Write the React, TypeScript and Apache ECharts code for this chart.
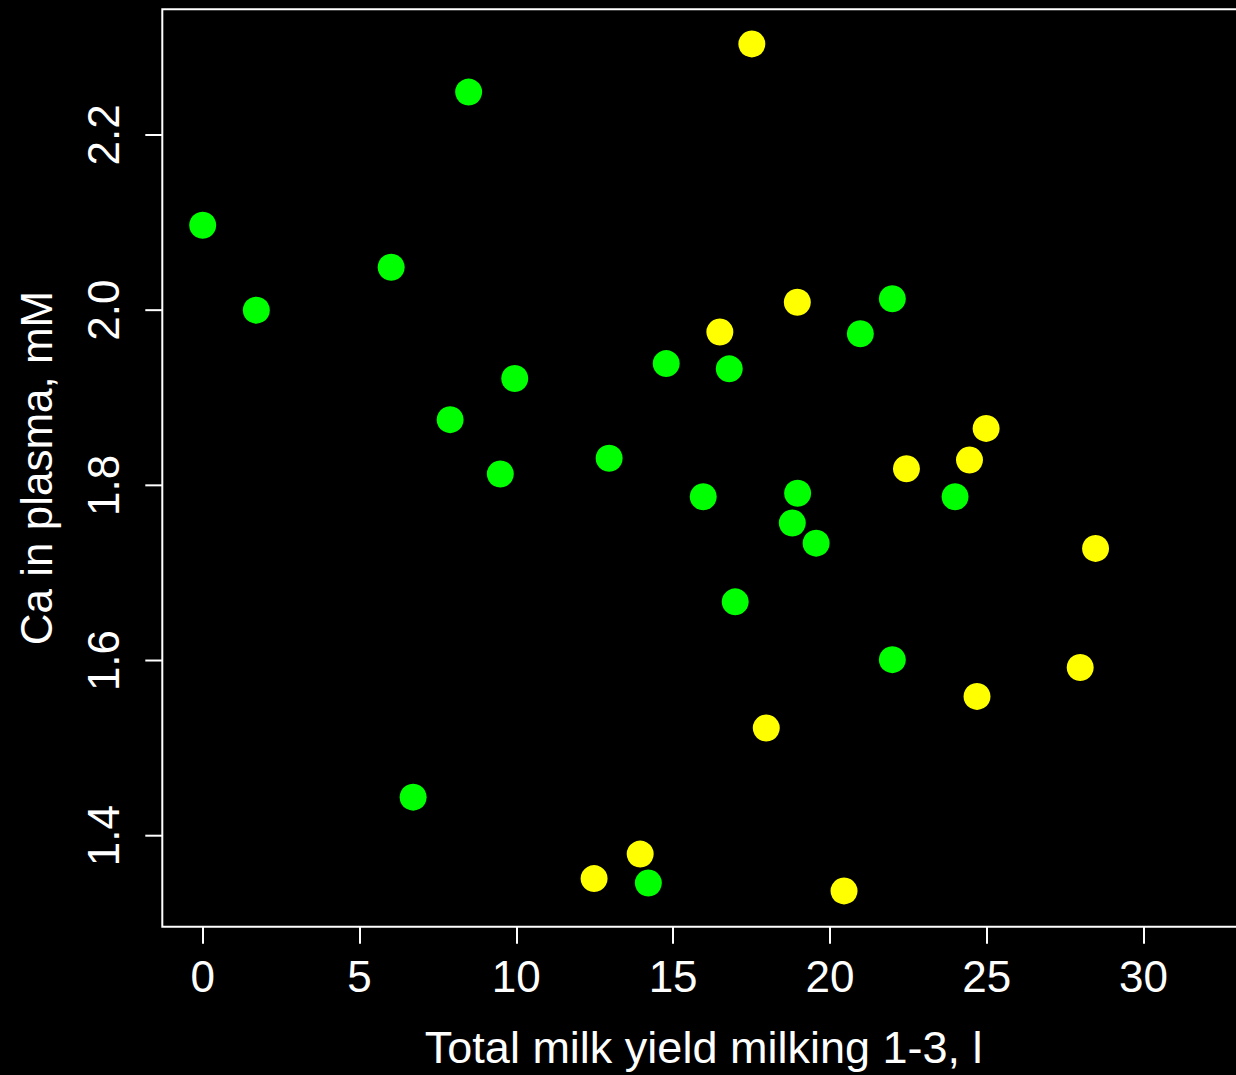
import React, { useEffect, useRef } from "react";
import * as echarts from "echarts";

// Green group: [milk yield (l), Ca in plasma (mM)]
const greenX = [0.0, 1.71, 6.01, 8.48, 9.95, 7.89, 9.49, 12.96, 14.78, 16.79, 21.99, 20.97, 15.96, 18.97, 18.8, 19.56, 23.99, 21.99, 16.98, 14.21, 6.71];
const greenY = [2.097, 2.0, 2.049, 2.249, 1.922, 1.875, 1.813, 1.831, 1.939, 1.933, 2.013, 1.973, 1.787, 1.791, 1.757, 1.734, 1.787, 1.601, 1.667, 1.346, 1.444];

// Yellow group
const yellowX = [17.51, 18.96, 16.49, 22.44, 24.98, 24.45, 28.47, 27.98, 24.69, 17.97, 13.95, 12.48, 20.45];
const yellowY = [2.304, 2.009, 1.975, 1.819, 1.865, 1.829, 1.728, 1.592, 1.559, 1.523, 1.379, 1.351, 1.337];

const xTicks = [0, 5, 10, 15, 20, 25, 30];
const yTicks = [1.4, 1.6, 1.8, 2.0, 2.2];

const xTitle = "Total milk yield milking 1-3, l";
const yTitle = "Ca in plasma, mM";

const FONT = "'Liberation Sans', Arial, Helvetica, sans-serif";

export default function App() {
  const ref = useRef<HTMLDivElement>(null);
  useEffect(() => {
    if (!ref.current) return;
    const chart = echarts.init(ref.current, null, { renderer: "svg" });
    const green = greenX.map((x, i) => [x, greenY[i]]);
    const yellow = yellowX.map((x, i) => [x, yellowY[i]]);
    const xMin = -1.288;
    chart.setOption({
      animation: false,
      backgroundColor: "#000000",
      textStyle: { fontFamily: FONT },
      grid: {
        left: 162.3,
        top: 9.3,
        width: 1090.7,
        height: 917.4,
        containLabel: false,
        outerBoundsMode: "none",
        show: true,
        borderColor: "#ffffff",
        borderWidth: 2,
        backgroundColor: "transparent",
      },
      xAxis: {
        type: "value",
        position: "bottom",
        min: xMin,
        max: 33.49,
        splitLine: { show: false },
        axisLine: { show: false, onZero: false },
        axisTick: {
          show: true,
          inside: false,
          customValues: xTicks,
          length: 17,
          lineStyle: { color: "#ffffff", width: 2 },
        },
        axisLabel: {
          customValues: xTicks,
          color: "#ffffff",
          fontSize: 44,
          fontFamily: FONT,
          margin: 28,
          formatter: (v: number) => String(v),
        },
        name: xTitle,
        nameLocation: "middle",
        nameGap: 98,
        nameTextStyle: { color: "#ffffff", fontSize: 45, fontFamily: FONT, padding: [0, 8, 0, 0] },
      },
      yAxis: {
        type: "value",
        position: "left",
        min: 1.2961,
        max: 2.3435,
        splitLine: { show: false },
        axisLine: { show: false, onZero: false },
        axisTick: { show: false },
        axisLabel: {
          customValues: yTicks,
          color: "#ffffff",
          fontSize: 44,
          fontFamily: FONT,
          rotate: 90,
          margin: 37,
          formatter: (v: number) => v.toFixed(1),
        },
        name: yTitle,
        nameLocation: "middle",
        nameGap: 104,
        nameRotate: 90,
        nameTextStyle: { color: "#ffffff", fontSize: 44, fontFamily: FONT },
      },
      series: [
        {
          type: "scatter",
          data: green,
          symbol: "circle",
          symbolSize: 27,
          itemStyle: { color: "#00ff00", opacity: 1 },
        },
        {
          type: "scatter",
          data: yellow,
          symbol: "circle",
          symbolSize: 27,
          itemStyle: { color: "#ffff00", opacity: 1 },
        },
      ],
    });
    // y-axis tick marks placed through the chart's own y scale
    const tickLines = yTicks.map((v) => {
      const p = chart.convertToPixel({ gridIndex: 0 }, [xMin, v]) as number[];
      return {
        type: "line",
        silent: true,
        shape: { x1: p[0] - 17, y1: p[1], x2: p[0], y2: p[1] },
        style: { stroke: "#ffffff", lineWidth: 2 },
      };
    });
    chart.setOption({ graphic: tickLines });
    return () => chart.dispose();
  }, []);
  return (
    <div
      ref={ref}
      style={{ position: "fixed", left: 0, top: 0, width: 1236, height: 1075, background: "#000" }}
    />
  );
}
